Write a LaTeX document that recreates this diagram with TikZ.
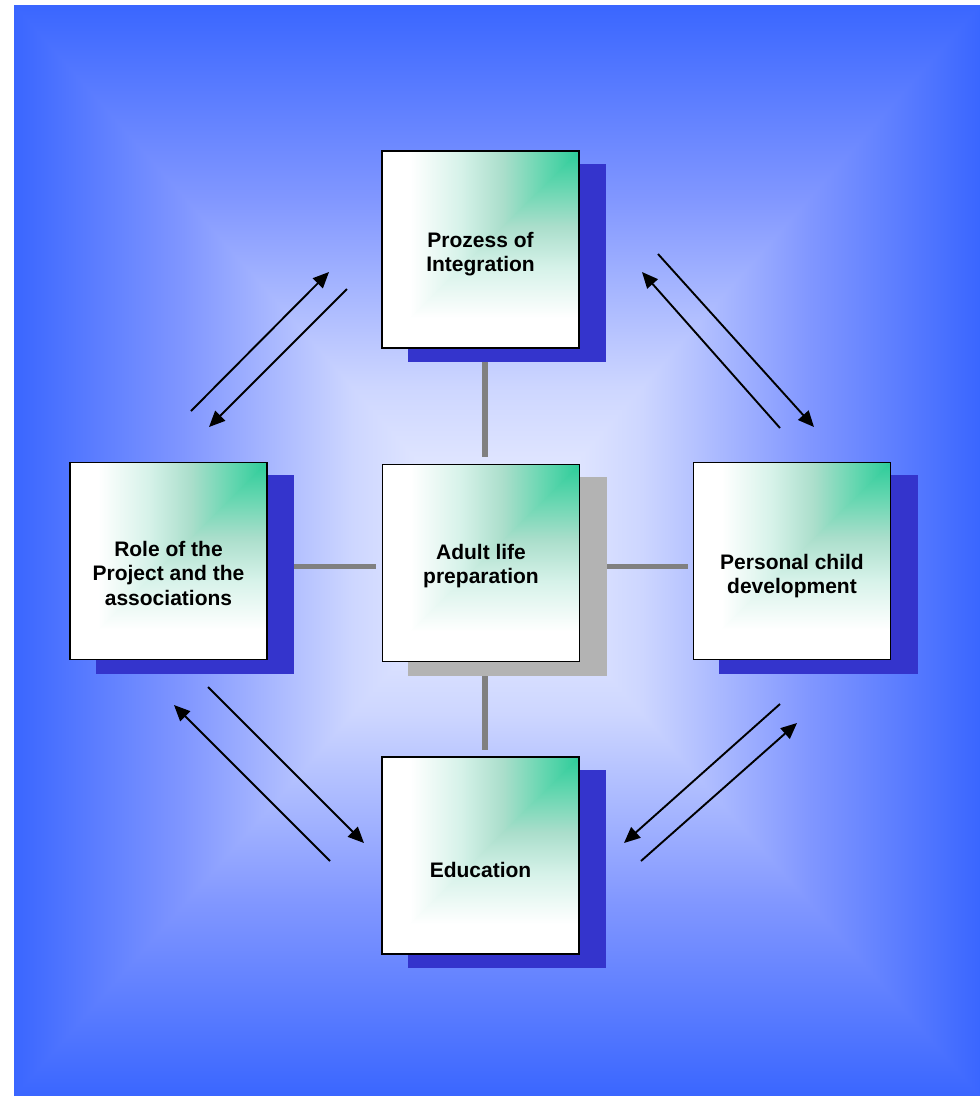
\documentclass[tikz,border=0pt]{standalone}
\usepackage{fontspec}
\setmainfont{Liberation Sans}
\usetikzlibrary{arrows.meta,calc}
\definecolor{bgblue}{RGB}{58,102,255}
\definecolor{bgA}{RGB}{128,150,255}
\definecolor{bgB}{RGB}{205,214,255}
\definecolor{bgC}{RGB}{244,246,255}
\definecolor{gA}{RGB}{255,255,255}
\definecolor{gB}{RGB}{214,242,233}
\definecolor{gC}{RGB}{170,222,203}
\definecolor{gD}{RGB}{98,214,175}
\definecolor{gE}{RGB}{45,204,153}
\definecolor{shblue}{RGB}{52,52,204}
\definecolor{shgray}{RGB}{179,179,179}
\definecolor{conngray}{RGB}{128,128,128}
\pgfdeclareverticalshading{bgv}{100bp}{color(0bp)=(bgblue); color(25bp)=(bgblue); color(33.75bp)=(bgA); color(42.5bp)=(bgB); color(50bp)=(bgC); color(57.5bp)=(bgB); color(66.25bp)=(bgA); color(75bp)=(bgblue); color(100bp)=(bgblue)}
\pgfdeclarehorizontalshading{bgh}{100bp}{color(0bp)=(bgblue); color(25bp)=(bgblue); color(33.75bp)=(bgA); color(42.5bp)=(bgB); color(50bp)=(bgC); color(57.5bp)=(bgB); color(66.25bp)=(bgA); color(75bp)=(bgblue); color(100bp)=(bgblue)}
\pgfdeclarehorizontalshading{boxh}{100bp}{color(0bp)=(gA); color(25bp)=(gA); color(40bp)=(gB); color(52.5bp)=(gC); color(65bp)=(gD); color(75bp)=(gE); color(100bp)=(gE)}
\pgfdeclareverticalshading{boxv}{100bp}{color(0bp)=(gA); color(25bp)=(gA); color(40bp)=(gB); color(52.5bp)=(gC); color(65bp)=(gD); color(75bp)=(gE); color(100bp)=(gE)}
\pgfdeclarelayer{bg}
\pgfdeclarelayer{conn}
\pgfdeclarelayer{shad}
\pgfsetlayers{bg,conn,shad,main}
\tikzset{
  box/.style={rectangle, minimum width=197pt, minimum height=197pt, inner sep=0pt,
    draw=black, line width=1.6pt, fill=white,
    path picture={
      \path (path picture bounding box.south west) ++(28pt,30pt) coordinate (pa)
            (path picture bounding box.north east) coordinate (pb);
      \shade[shading=boxv] (pa) rectangle (pb);
      \shade[shading=boxh] (pa) -- (pa |- pb) -- (pb) -- cycle;
    }},
  txt/.style={font=\bfseries\fontsize{21}{24.5}\selectfont, align=center, anchor=north, inner sep=0pt},
  conn/.style={draw=conngray, line width=5.5pt},
  arr/.style={line width=1.9pt, -{Triangle[length=16pt,width=14pt]}},
}
\begin{document}
\begin{tikzpicture}[x=1pt,y=-1pt]
\useasboundingbox (0,0) rectangle (980,1096);
% background
\begin{pgfonlayer}{bg}
  \fill[bgblue] (14,5) rectangle (980,1096);
  \shade[shading=bgv] (14,5) rectangle (980,1096);
  \shade[shading=bgh] (14,5) -- (497,550.5) -- (980,5) -- (980,1096) -- (497,550.5) -- (14,1096) -- cycle;
\end{pgfonlayer}
% boxes
\node[box] (top) at (480.5,249.5) {};
\node[box] (left) at (168.5,561) {};
\node[box] (center) at (481,563) {};
\node[box] (right) at (792,561) {};
\node[box] (bottom) at (480.5,855.5) {};
% shadows
\begin{pgfonlayer}{shad}
  \fill[shblue] ([shift={(26.5,13.5)}]top.south west) rectangle ([shift={(26.5,13.5)}]top.north east);
  \fill[shblue] ([shift={(26.5,13.5)}]left.south west) rectangle ([shift={(26.5,13.5)}]left.north east);
  \fill[shgray] ([shift={(26.5,13.5)}]center.south west) rectangle ([shift={(26.5,13.5)}]center.north east);
  \fill[shblue] ([shift={(26.5,13.5)}]right.south west) rectangle ([shift={(26.5,13.5)}]right.north east);
  \fill[shblue] ([shift={(26.5,13.5)}]bottom.south west) rectangle ([shift={(26.5,13.5)}]bottom.north east);
\end{pgfonlayer}
% connectors
\begin{pgfonlayer}{conn}
  \draw[conn, shorten >=7pt] ($(top.south -| center.north)+(4,0)$) -- ($(center.north)+(4,0)$);
  \draw[conn, shorten >=6pt] ($(center.south)+(4,0)$) -- ($(bottom.north -| center.south)+(4,0)$);
  \draw[conn, shorten >=6pt] ($(left.east |- center.west)+(0,3.5)$) -- ($(center.west)+(0,3.5)$);
  \draw[conn, shorten >=5pt] ($(center.east)+(0,3.5)$) -- ($(right.west |- center.east)+(0,3.5)$);
\end{pgfonlayer}
% texts
\node[txt] (topT) at (480.5,232) {Prozess of\\Integration};
\node[txt] (leftT) at (168.5,541) {Role of the\\Project and the\\associations};
\node[txt] (centerT) at (481,544) {Adult life\\preparation};
\node[txt] (rightT) at (792,554) {Personal child\\development};
\node[txt] (bottomT) at (480.5,862) {Education};
% arrows
\coordinate (a1s) at (191,411); \coordinate (a1e) at (329,272);
\coordinate (a2s) at (347,289); \coordinate (a2e) at (209,427);
\coordinate (a3s) at (658,254); \coordinate (a3e) at (814,427);
\coordinate (a4s) at (780,428); \coordinate (a4e) at (642,272);
\coordinate (a5s) at (208,687); \coordinate (a5e) at (364,843);
\coordinate (a6s) at (330,861); \coordinate (a6e) at (174,705);
\coordinate (a7s) at (780,704); \coordinate (a7e) at (624,843);
\coordinate (a8s) at (641,861); \coordinate (a8e) at (797,723);
\draw[arr] (a1s) -- (a1e);
\draw[arr] (a2s) -- (a2e);
\draw[arr] (a3s) -- (a3e);
\draw[arr] (a4s) -- (a4e);
\draw[arr] (a5s) -- (a5e);
\draw[arr] (a6s) -- (a6e);
\draw[arr] (a7s) -- (a7e);
\draw[arr] (a8s) -- (a8e);
\end{tikzpicture}
\end{document}
